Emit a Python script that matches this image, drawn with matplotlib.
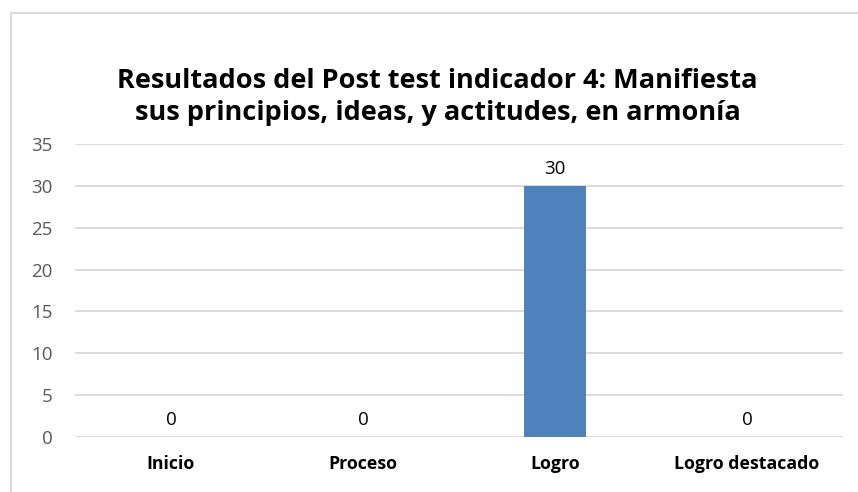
import matplotlib
matplotlib.use("Agg")
import matplotlib.pyplot as plt
from matplotlib.patches import Rectangle

categories = ["Inicio", "Proceso", "Logro", "Logro destacado"]
values = [0, 0, 30, 0]
yticks = [0, 5, 10, 15, 20, 25, 30, 35]
title = "Resultados del Post test indicador 4: Manifiesta\nsus principios, ideas, y actitudes, en armonía"

plt.rcParams["font.family"] = ["Open Sans", "DejaVu Sans"]

fig = plt.figure(figsize=(8.58, 4.92), dpi=100)
ax = fig.add_axes([75 / 858, 1 - 437 / 492, 768 / 858, 293 / 492])

xs = list(range(len(categories)))
ax.bar(xs, values, width=0.32, color="#4f81bd", zorder=3)
for x, v in zip(xs, values):
    ax.annotate(str(v), (x, v), xytext=(0, 6), textcoords="offset points",
                ha="center", va="bottom", fontsize=13.5, color="#000000")

ax.set_xlim(-0.5, len(categories) - 0.5)
ax.set_ylim(0, 35)
ax.set_yticks(yticks)
ax.set_xticks(xs)
ax.set_xticklabels(categories, fontweight="bold", fontsize=12.8)
ax.tick_params(axis="x", length=0, pad=13)
ax.tick_params(axis="y", length=0, pad=16, labelsize=13.5, labelcolor="#595959")
ax.grid(axis="y", color="#d9d9d9", linewidth=1.3, zorder=0)
for side in ax.spines.values():
    side.set_visible(False)

fig.text(0.51, 0.802, title, ha="center", va="center", fontsize=19.5,
         fontweight="bold", linespacing=1.3)

fig.patches.append(Rectangle((11 / 858, -0.1), 1.2, 1 - 13 / 492 + 0.1,
                             transform=fig.transFigure, fill=False,
                             edgecolor="#d9d9d9", linewidth=1.5))

fig.savefig("out.png", dpi=100)
